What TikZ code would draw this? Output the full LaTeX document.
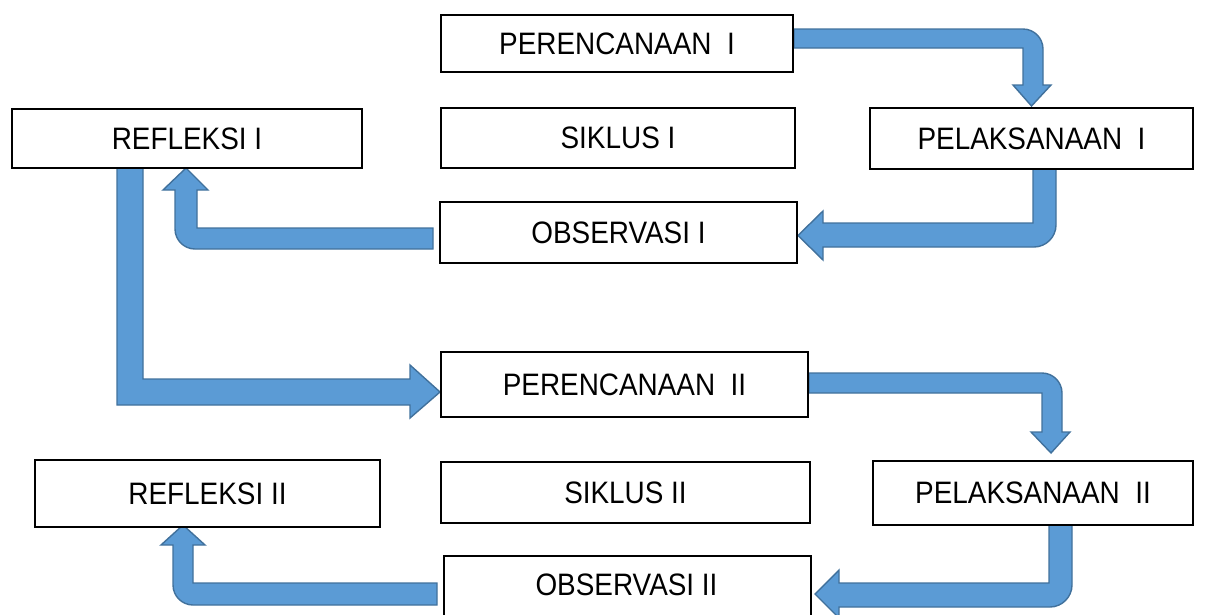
\documentclass[tikz,border=0pt]{standalone}
\usepackage{fontspec}
\setmainfont{Liberation Sans}[FakeStretch=0.9]
\usetikzlibrary{backgrounds,calc}
\definecolor{arrfill}{HTML}{5B9BD5}
\definecolor{arrline}{HTML}{41719C}
\tikzset{
  box/.style={draw=black, line width=2pt, fill=white, inner sep=0pt,
    font=\fontsize{31}{33}\selectfont},
  blockarrow/.style={fill=arrfill, draw=arrline, line width=1.4pt, line join=miter}
}
\begin{document}
\begin{tikzpicture}[x=1pt,y=-1pt]
\useasboundingbox (0,0) rectangle (1216,614);
% boxes
\node[box, minimum width=352pt, minimum height=57pt] (P1) at (617,43.5) {PERENCANAAN\ \ I};
\node[box, minimum width=350pt, minimum height=59pt] (R1) at (187,138.5) {REFLEKSI I};
\node[box, minimum width=354pt, minimum height=60pt] (S1) at (618,138) {SIKLUS I};
\node[box, minimum width=323pt, minimum height=61pt] (L1) at (1031.5,138.5) {PELAKSANAAN\ \ I};
\node[box, minimum width=357pt, minimum height=61pt] (O1) at (618.5,232.5) {OBSERVASI I};
\node[box, minimum width=367pt, minimum height=65pt] (P2) at (624.5,384.5) {PERENCANAAN\ \ II};
\node[box, minimum width=345pt, minimum height=67pt] (R2) at (207.5,493.5) {REFLEKSI II};
\node[box, minimum width=369pt, minimum height=61pt] (S2) at (625.5,492.5) {SIKLUS II};
\node[box, minimum width=320pt, minimum height=64pt] (L2) at (1033,493) {PELAKSANAAN\ \ II};
\node[box, minimum width=367pt, minimum height=65pt, anchor=north west] (O2) at (443,555) {};
\node[font=\fontsize{31}{33}\selectfont] (O2t) at (626.5,584.5) {OBSERVASI II};
% block arrows
\begin{pgfonlayer}{background}
% P1 -> L1
\draw[blockarrow] (P1.east |- 0,29) -- (1023,29) .. controls (1034,29) and (1043,38) .. (1043,49)
  -- (1043,85) -- (1051,85) -- (L1.north |- 0,106) -- (1013,85) -- (1023,85)
  -- (1023,48) -- (P1.east |- 0,48) -- cycle;
% L1 -> O1
\draw[blockarrow] (1033,168) -- (1056,168) -- (1056,225) .. controls (1056,237) and (1046,247) .. (1034,247)
  -- (823,247) -- (823,260) -- (O1.east |- 0,235.5) -- (823,211) -- (823,223)
  -- (1033,223) -- cycle;
% O1 -> R1
\draw[blockarrow] (433,228) -- (433,249) -- (195,249) .. controls (184,249) and (175,240) .. (175,229)
  -- (175,190) -- (163,190) -- (186,168) -- (208,190) -- (197,190)
  -- (197,228) -- cycle;
% R1 -> P2
\draw[blockarrow] (117,168) -- (143,168) -- (143,379) -- (410,379) -- (410,365)
  -- (P2.west |- 0,392) -- (410,418) -- (410,405) -- (117,405) -- cycle;
% P2 -> L2
\draw[blockarrow] (P2.east |- 0,373) -- (1042,373) .. controls (1053,373) and (1062,382) .. (1062,393)
  -- (1062,432) -- (1070,432) -- (1051,453) -- (1031,432) -- (1042,432)
  -- (1042,393) -- (P2.east |- 0,393) -- cycle;
% L2 -> O2
\draw[blockarrow] (1049,525) -- (1072,525) -- (1072,585) .. controls (1072,597) and (1062,607) .. (1050,607)
  -- (839,607) -- (839,618) -- (815,594) -- (839,570) -- (839,583)
  -- (1049,583) -- cycle;
% O2 -> R2
\draw[blockarrow] (437,583) -- (437,605) -- (193,605) .. controls (182,605) and (173,596) .. (173,585)
  -- (173,545) -- (161,545) -- (183,525) -- (205,545) -- (193,545)
  -- (193,583) -- cycle;
\end{pgfonlayer}
\end{tikzpicture}
\end{document}
